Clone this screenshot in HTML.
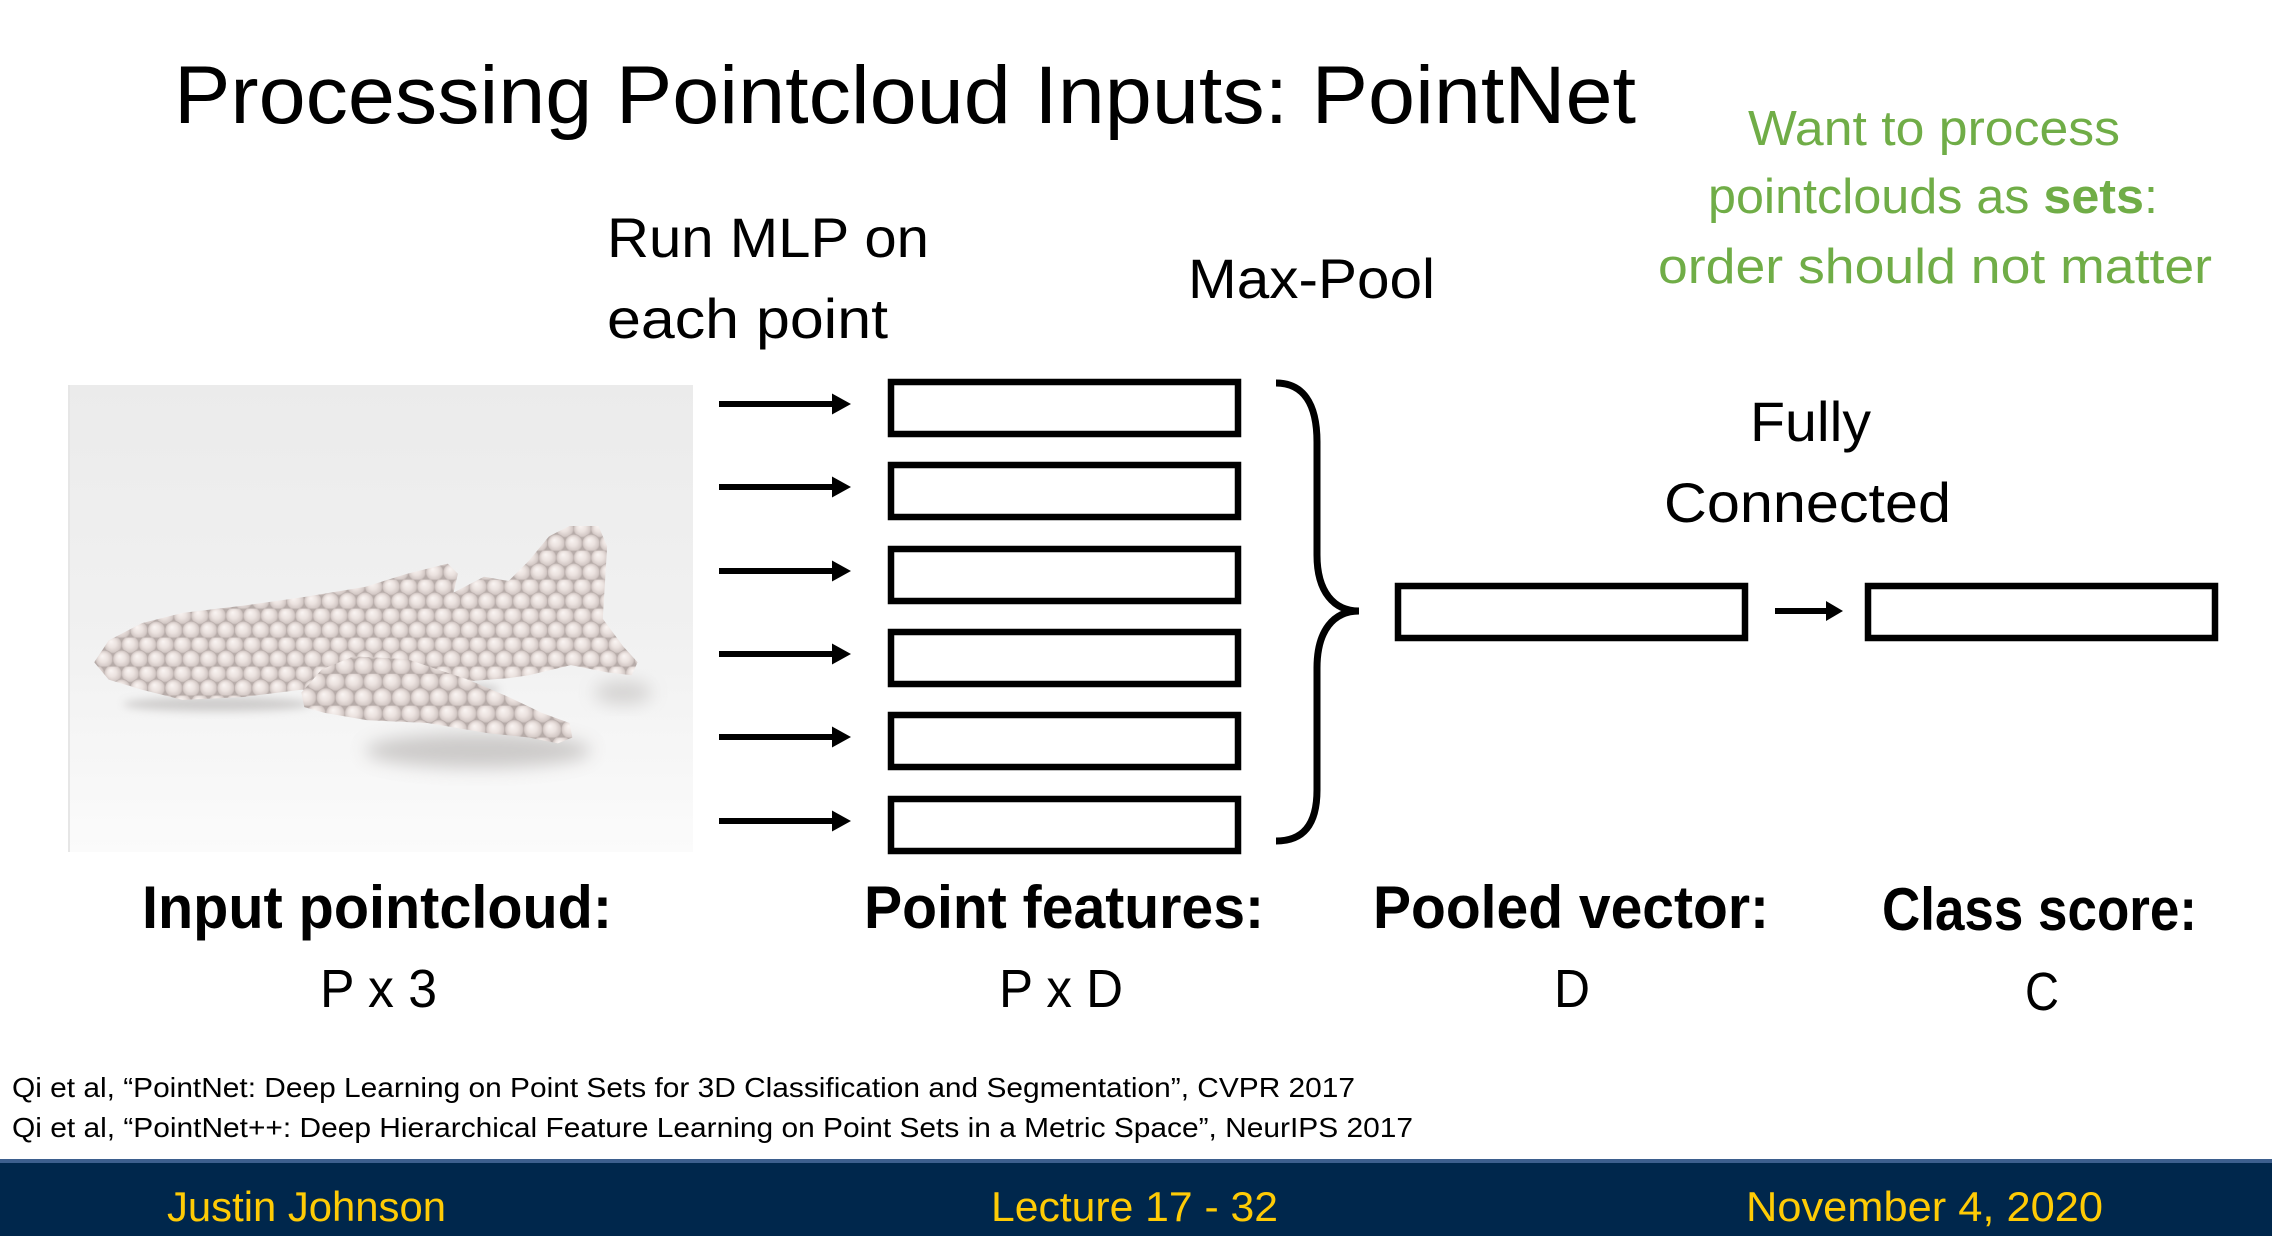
<!DOCTYPE html>
<html>
<head>
<meta charset="utf-8">
<style>
html,body{margin:0;padding:0;background:#fff;}
body{width:2272px;height:1236px;overflow:hidden;}
svg{display:block;}
text{font-family:"Liberation Sans",Arial,sans-serif;}
</style>
</head>
<body>
<svg width="2272" height="1236" viewBox="0 0 2272 1236" xmlns="http://www.w3.org/2000/svg">
  <defs>
    <linearGradient id="bg" x1="0" y1="0" x2="0" y2="1">
      <stop offset="0" stop-color="#ebebeb"/>
      <stop offset="0.55" stop-color="#f1f1f1"/>
      <stop offset="1" stop-color="#fbfbfb"/>
    </linearGradient>
    <radialGradient id="sph" cx="0.5" cy="0.5" r="0.5" fx="0.38" fy="0.32">
      <stop offset="0" stop-color="#faf5f3"/>
      <stop offset="0.5" stop-color="#ebe2df"/>
      <stop offset="0.85" stop-color="#d3c8c5"/>
      <stop offset="1" stop-color="#ad a29f"/>
    </radialGradient>
    <radialGradient id="sphb" cx="0.5" cy="0.5" r="0.5" fx="0.38" fy="0.32">
      <stop offset="0" stop-color="#faf5f3"/>
      <stop offset="0.5" stop-color="#ebe2df"/>
      <stop offset="0.85" stop-color="#d3c8c5"/>
      <stop offset="1" stop-color="#aea3a0"/>
    </radialGradient>
    <pattern id="balls" patternUnits="userSpaceOnUse" width="12" height="20">
      <rect width="12" height="20" fill="#b7aca9"/>
      <circle cx="6" cy="5" r="6.4" fill="url(#sphb)"/>
      <circle cx="0" cy="15" r="6.4" fill="url(#sphb)"/>
      <circle cx="12" cy="15" r="6.4" fill="url(#sphb)"/>
    </pattern>
    <pattern id="balls2" patternUnits="userSpaceOnUse" width="13" height="22" x="4" y="3">
      <rect width="13" height="22" fill="#b7aca9"/>
      <circle cx="6.5" cy="5.5" r="6.9" fill="url(#sphb)"/>
      <circle cx="0" cy="16.5" r="6.9" fill="url(#sphb)"/>
      <circle cx="13" cy="16.5" r="6.9" fill="url(#sphb)"/>
    </pattern>
    <filter id="blur" x="-50%" y="-50%" width="200%" height="200%">
      <feGaussianBlur stdDeviation="6"/>
    </filter>
    <filter id="blur2" x="-50%" y="-50%" width="200%" height="200%">
      <feGaussianBlur stdDeviation="3"/>
    </filter>
  </defs>

  <!-- Title -->
  <text x="174" y="123" font-size="82" fill="#000" textLength="1462" lengthAdjust="spacingAndGlyphs">Processing Pointcloud Inputs: PointNet</text>

  <!-- Run MLP label -->
  <text x="607" y="257" font-size="56" fill="#000" textLength="322" lengthAdjust="spacingAndGlyphs">Run MLP on</text>
  <text x="607" y="338" font-size="56" fill="#000" textLength="281" lengthAdjust="spacingAndGlyphs">each point</text>

  <!-- Max-Pool -->
  <text x="1188" y="298" font-size="56" fill="#000" textLength="247" lengthAdjust="spacingAndGlyphs">Max-Pool</text>

  <!-- Green note -->
  <text x="1748" y="145" font-size="49" fill="#70ad47" textLength="372" lengthAdjust="spacingAndGlyphs">Want to process</text>
  <text x="1708" y="213" font-size="49" fill="#70ad47" textLength="450" lengthAdjust="spacingAndGlyphs">pointclouds as <tspan font-weight="bold">sets</tspan>:</text>
  <text x="1658" y="283" font-size="49" fill="#70ad47" textLength="554" lengthAdjust="spacingAndGlyphs">order should not matter</text>

  <!-- Fully Connected -->
  <text x="1750" y="441" font-size="56" fill="#000" textLength="121" lengthAdjust="spacingAndGlyphs">Fully</text>
  <text x="1664" y="522" font-size="56" fill="#000" textLength="287" lengthAdjust="spacingAndGlyphs">Connected</text>

  <!-- Input image -->
  <rect x="68" y="385" width="625" height="467" fill="url(#bg)"/>
  <rect x="68" y="385" width="2" height="467" fill="#e6e6e6"/>
  <g transform="scale(1.449)">
    <!-- shadows -->
    <ellipse cx="150" cy="486" rx="65" ry="5" fill="#8a8583" opacity="0.35" filter="url(#blur2)"/>
    <ellipse cx="330" cy="518" rx="78" ry="12" fill="#9a9593" opacity="0.45" filter="url(#blur)"/>
    <ellipse cx="430" cy="478" rx="20" ry="8" fill="#9a9593" opacity="0.35" filter="url(#blur)"/>
    <ellipse cx="290" cy="476" rx="55" ry="5" fill="#7a7573" opacity="0.35" filter="url(#blur2)"/>
    <!-- fuselage + tail -->
    <path fill="url(#balls)" d="M65,457 L75,442 L98,430 L126,423 L168,418 L210,412 L252,405 L281,396 L309,389 L316,396 L313,409 L334,398 L351,401 L365,387 L379,370 L393,363 L413,363 L419,377 L416,427 L430,446 L440,457 L436,466 L419,464 L394,459 L365,466 L351,468 L300,472 L243,478 L208,476 L168,481 L126,483 L98,476 L75,469 Z"/>
    <!-- front wing -->
    <path fill="url(#balls2)" d="M208,478 L222,462 L244,453 L281,455 L323,469 L351,481 L374,492 L393,499 L395,509 L385,513 L365,509 L337,506 L295,499 L253,497 L224,492 L210,488 Z"/>
  </g>

  <!-- Arrows to point features -->
  <g fill="#000">
    <rect x="719" y="401" width="116" height="6"/>
    <polygon points="832,393.5 851,404 832,414.5"/>
    <rect x="719" y="484" width="116" height="6"/>
    <polygon points="832,476.5 851,487 832,497.5"/>
    <rect x="719" y="568" width="116" height="6"/>
    <polygon points="832,560.5 851,571 832,581.5"/>
    <rect x="719" y="651" width="116" height="6"/>
    <polygon points="832,643.5 851,654 832,664.5"/>
    <rect x="719" y="734" width="116" height="6"/>
    <polygon points="832,726.5 851,737 832,747.5"/>
    <rect x="719" y="818" width="116" height="6"/>
    <polygon points="832,810.5 851,821 832,831.5"/>
  </g>

  <!-- Point feature boxes -->
  <g fill="none" stroke="#000" stroke-width="6.5">
    <rect x="891" y="382" width="347" height="52"/>
    <rect x="891" y="465" width="347" height="52"/>
    <rect x="891" y="549" width="347" height="52"/>
    <rect x="891" y="632" width="347" height="52"/>
    <rect x="891" y="715" width="347" height="52"/>
    <rect x="891" y="799" width="347" height="52"/>
  </g>

  <!-- Brace -->
  <path d="M1276,383 C1302,383 1317,402 1317,442 L1317,555 C1317,592 1334,611 1359,611 C1334,611 1317,630 1317,668 L1317,790 C1317,826 1302,841 1276,841" fill="none" stroke="#000" stroke-width="7"/>

  <!-- Pooled vector box -->
  <rect x="1398" y="586" width="347" height="52" fill="none" stroke="#000" stroke-width="6.5"/>
  <!-- FC arrow -->
  <rect x="1775" y="608" width="54" height="6" fill="#000"/>
  <polygon points="1826,601 1843,611 1826,621" fill="#000"/>
  <!-- Class score box -->
  <rect x="1868" y="586" width="347" height="52" fill="none" stroke="#000" stroke-width="6.5"/>

  <!-- Bottom labels -->
  <text x="142" y="928" font-size="60" font-weight="bold" fill="#000" textLength="470" lengthAdjust="spacingAndGlyphs">Input pointcloud:</text>
  <text x="320" y="1007" font-size="54" fill="#000" textLength="117" lengthAdjust="spacingAndGlyphs">P x 3</text>

  <text x="864" y="928" font-size="60" font-weight="bold" fill="#000" textLength="400" lengthAdjust="spacingAndGlyphs">Point features:</text>
  <text x="999" y="1007" font-size="54" fill="#000" textLength="124" lengthAdjust="spacingAndGlyphs">P x D</text>

  <text x="1373" y="928" font-size="60" font-weight="bold" fill="#000" textLength="396" lengthAdjust="spacingAndGlyphs">Pooled vector:</text>
  <text x="1554" y="1007" font-size="54" fill="#000" textLength="36" lengthAdjust="spacingAndGlyphs">D</text>

  <text x="1882" y="930" font-size="60" font-weight="bold" fill="#000" textLength="315" lengthAdjust="spacingAndGlyphs">Class score:</text>
  <text x="2025" y="1010" font-size="54" fill="#000" textLength="34" lengthAdjust="spacingAndGlyphs">C</text>

  <!-- References -->
  <text x="12" y="1097" font-size="28" fill="#000" textLength="1343" lengthAdjust="spacingAndGlyphs">Qi et al, “PointNet: Deep Learning on Point Sets for 3D Classification and Segmentation”, CVPR 2017</text>
  <text x="12" y="1137" font-size="28" fill="#000" textLength="1401" lengthAdjust="spacingAndGlyphs">Qi et al, “PointNet++: Deep Hierarchical Feature Learning on Point Sets in a Metric Space”, NeurIPS 2017</text>

  <!-- Footer -->
  <rect x="0" y="1159" width="2272" height="77" fill="#00274c"/>
  <rect x="0" y="1159" width="2272" height="4" fill="#3d5f8e"/>
  <text x="167" y="1221" font-size="42" fill="#ffcb05" textLength="279" lengthAdjust="spacingAndGlyphs">Justin Johnson</text>
  <text x="991" y="1221" font-size="42" fill="#ffcb05" textLength="287" lengthAdjust="spacingAndGlyphs">Lecture 17 - 32</text>
  <text x="1746" y="1221" font-size="42" fill="#ffcb05" textLength="357" lengthAdjust="spacingAndGlyphs">November 4, 2020</text>
</svg>
</body>
</html>
